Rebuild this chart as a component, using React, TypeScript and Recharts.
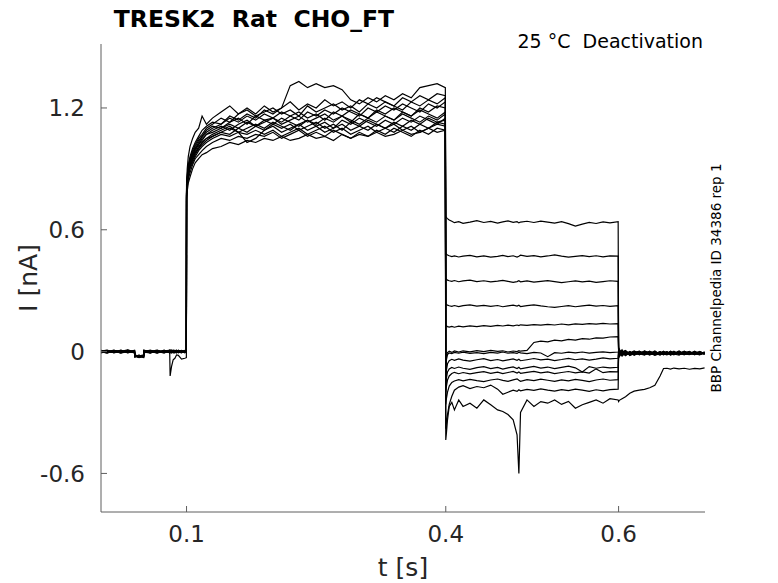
import React from 'react'
import { LineChart, Line, XAxis, YAxis } from 'recharts'

// time grid (s), split by protocol phase
const PRE_T = [0.001, 0.008, 0.016, 0.024, 0.032, 0.0398, 0.0402, 0.045, 0.0503, 0.0507, 0.058, 0.066, 0.074, 0.0805, 0.081, 0.0826, 0.0845, 0.0865, 0.0885, 0.0905, 0.0942, 0.098, 0.0998]
const ACT_T = [0.1, 0.1008, 0.102, 0.104, 0.107, 0.11, 0.114, 0.118, 0.123, 0.13, 0.14, 0.15, 0.16, 0.17, 0.18, 0.19, 0.2, 0.21, 0.22, 0.23, 0.24, 0.25, 0.26, 0.27, 0.28, 0.29, 0.3, 0.31, 0.32, 0.33, 0.34, 0.35, 0.36, 0.37, 0.38, 0.39, 0.3995]
const TAIL_T = [0.4, 0.4008, 0.402, 0.404, 0.407, 0.41, 0.415, 0.42, 0.428, 0.436, 0.444, 0.452, 0.46, 0.466, 0.472, 0.478, 0.4825, 0.4846, 0.4865, 0.494, 0.502, 0.51, 0.518, 0.526, 0.534, 0.542, 0.55, 0.558, 0.566, 0.574, 0.582, 0.59, 0.5995]
const POST_T = [0.6, 0.6008, 0.604, 0.608, 0.613, 0.618, 0.624, 0.63, 0.636, 0.642, 0.648, 0.652, 0.656, 0.66, 0.664, 0.67, 0.676, 0.682, 0.688, 0.694, 0.6995]

// current (nA), one row per sweep
const PRE_I = [
  [0.004, -0.003, 0.006, -0.002, 0.003, -0.004, -0.021, -0.026, -0.019, 0.002, 0.005, -0.003, 0.004, -0.002, 0.001, 0.005, -0.004, 0.003, -0.001, 0.006, -0.003, 0.002, 0.004],
  [-0.005, 0.004, -0.002, 0.007, -0.004, 0.002, -0.024, -0.019, -0.027, -0.003, -0.006, 0.004, -0.002, 0.005, -0.004, 0.0, 0.006, -0.003, 0.004, -0.005, 0.002, -0.004, 0.001],
  [0.002, 0.007, -0.004, 0.001, 0.008, -0.002, -0.018, -0.028, -0.022, 0.006, 0.001, 0.007, -0.005, 0.003, 0.006, -0.003, 0.002, 0.007, -0.004, 0.001, 0.006, -0.002, -0.003],
  [-0.002, -0.006, 0.003, -0.007, 0.001, 0.005, -0.027, -0.022, -0.016, -0.005, 0.004, -0.006, 0.007, -0.004, 0.002, 0.006, -0.005, 0.0, 0.005, -0.002, -0.006, 0.005, 0.002],
  [0.006, 0.001, -0.005, 0.004, -0.006, 0.003, -0.02, -0.03, -0.024, 0.003, -0.002, 0.002, -0.007, 0.006, -0.001, -0.006, 0.004, -0.005, 0.002, 0.004, 0.001, -0.006, 0.005],
  [-0.003, 0.005, 0.002, -0.004, 0.006, -0.006, -0.023, -0.017, -0.029, -0.001, 0.007, -0.004, 0.002, -0.006, 0.004, 0.002, -0.002, 0.005, -0.006, 0.0, 0.004, 0.003, -0.004],
  [0.001, -0.007, 0.005, 0.003, -0.002, 0.007, -0.016, -0.025, -0.02, 0.005, -0.004, 0.006, -0.003, 0.001, -0.005, 0.004, 0.007, -0.002, 0.003, -0.004, -0.001, 0.006, 0.0],
  [-0.006, 0.002, -0.001, 0.005, -0.005, 0.001, -0.025, -0.021, -0.026, -0.006, 0.003, -0.002, 0.005, -0.003, 0.006, -0.004, 0.001, 0.004, -0.003, 0.005, -0.005, 0.001, 0.003],
  [0.003, -0.001, 0.007, -0.005, 0.004, -0.003, -0.019, -0.027, -0.018, 0.001, -0.005, 0.003, -0.001, 0.004, -0.003, 0.006, -0.006, 0.002, 0.006, -0.003, 0.003, -0.005, -0.002],
  [-0.004, 0.006, -0.006, 0.002, -0.003, 0.004, -0.026, -0.018, -0.023, -0.004, 0.002, -0.007, 0.003, 0.007, -0.002, -0.001, 0.003, -0.006, 0.001, 0.007, -0.004, 0.004, -0.005],
  [0.005, -0.004, 0.001, -0.006, 0.007, -0.005, -0.022, -0.029, -0.021, 0.004, -0.007, 0.005, -0.004, 0.002, 0.005, -0.005, 0.005, 0.001, -0.005, 0.002, 0.005, -0.003, 0.006],
  [-0.001, 0.003, -0.003, 0.006, -0.001, 0.002, -0.021, -0.024, -0.025, -0.002, 0.005, 0.001, -0.004, 0.003, -0.12, -0.074, -0.041, -0.033, -0.016, -0.018, -0.037, -0.033, -0.03],
  [0.002, -0.005, 0.004, -0.003, 0.002, -0.007, -0.017, -0.023, -0.028, 0.007, -0.003, -0.005, 0.006, -0.005, 0.003, 0.001, -0.003, -0.004, 0.007, -0.006, 0.0, 0.003, -0.001],
]

const ACT_I = [
  [0.8, 0.87, 0.92, 0.96, 1.0, 1.03, 1.06, 1.09, 1.11, 1.13, 1.12, 1.16, 1.14, 1.17, 1.15, 1.19, 1.17, 1.2, 1.31, 1.33, 1.3, 1.32, 1.3, 1.31, 1.29, 1.24, 1.22, 1.25, 1.23, 1.26, 1.24, 1.27, 1.25, 1.3, 1.31, 1.32, 1.3],
  [0.82, 0.9, 0.96, 1.01, 1.05, 1.08, 1.1, 1.16, 1.12, 1.15, 1.18, 1.21, 1.17, 1.2, 1.17, 1.21, 1.18, 1.2, 1.23, 1.19, 1.22, 1.2, 1.24, 1.21, 1.23, 1.2, 1.24, 1.22, 1.25, 1.23, 1.21, 1.25, 1.23, 1.26, 1.24, 1.27, 1.26],
  [0.79, 0.86, 0.91, 0.95, 0.99, 1.02, 1.05, 1.07, 1.1, 1.12, 1.15, 1.13, 1.17, 1.19, 1.16, 1.18, 1.2, 1.17, 1.19, 1.16, 1.21, 1.18, 1.2, 1.22, 1.19, 1.21, 1.18, 1.22, 1.2, 1.23, 1.21, 1.19, 1.23, 1.21, 1.24, 1.22, 1.25],
  [0.78, 0.85, 0.9, 0.94, 0.98, 1.01, 1.04, 1.06, 1.08, 1.1, 1.12, 1.15, 1.13, 1.16, 1.14, 1.17, 1.15, 1.18, 1.16, 1.14, 1.18, 1.16, 1.19, 1.17, 1.2, 1.18, 1.16, 1.2, 1.18, 1.21, 1.19, 1.22, 1.2, 1.18, 1.22, 1.2, 1.23],
  [0.77, 0.84, 0.89, 0.93, 0.97, 1.0, 1.03, 1.06, 1.09, 1.11, 1.1, 1.13, 1.15, 1.12, 1.16, 1.14, 1.15, 1.13, 1.16, 1.18, 1.15, 1.17, 1.14, 1.18, 1.16, 1.19, 1.17, 1.15, 1.19, 1.17, 1.2, 1.18, 1.16, 1.2, 1.18, 1.21, 1.2],
  [0.79, 0.85, 0.9, 0.94, 0.97, 1.0, 1.02, 1.04, 1.07, 1.09, 1.11, 1.09, 1.12, 1.14, 1.11, 1.13, 1.15, 1.12, 1.14, 1.16, 1.13, 1.15, 1.17, 1.14, 1.16, 1.13, 1.17, 1.15, 1.18, 1.16, 1.14, 1.18, 1.16, 1.19, 1.17, 1.15, 1.18],
  [0.78, 0.84, 0.88, 0.92, 0.96, 0.99, 1.02, 1.05, 1.07, 1.08, 1.1, 1.12, 1.1, 1.13, 1.11, 1.14, 1.12, 1.15, 1.13, 1.11, 1.14, 1.12, 1.15, 1.13, 1.16, 1.14, 1.12, 1.15, 1.13, 1.16, 1.14, 1.17, 1.15, 1.13, 1.16, 1.14, 1.17],
  [0.77, 0.83, 0.88, 0.92, 0.95, 0.98, 1.01, 1.03, 1.05, 1.07, 1.09, 1.11, 1.08, 1.1, 1.12, 1.1, 1.13, 1.11, 1.09, 1.12, 1.14, 1.11, 1.13, 1.1, 1.14, 1.12, 1.15, 1.13, 1.11, 1.14, 1.12, 1.15, 1.13, 1.16, 1.14, 1.12, 1.15],
  [0.78, 0.83, 0.87, 0.91, 0.95, 0.98, 1.0, 1.03, 1.05, 1.06, 1.08, 1.07, 1.1, 1.08, 1.11, 1.09, 1.12, 1.1, 1.12, 1.09, 1.11, 1.13, 1.1, 1.12, 1.09, 1.13, 1.11, 1.14, 1.12, 1.1, 1.13, 1.11, 1.14, 1.12, 1.15, 1.13, 1.14],
  [0.76, 0.82, 0.87, 0.91, 0.94, 0.97, 1.0, 1.02, 1.04, 1.06, 1.08, 1.1, 1.08, 1.03, 1.05, 1.09, 1.11, 1.08, 1.1, 1.12, 1.09, 1.11, 1.08, 1.1, 1.12, 1.09, 1.11, 1.09, 1.12, 1.1, 1.08, 1.11, 1.09, 1.12, 1.1, 1.13, 1.12],
  [0.77, 0.82, 0.86, 0.9, 0.93, 0.96, 0.99, 1.01, 1.03, 1.05, 1.07, 1.06, 1.08, 1.07, 1.09, 1.07, 1.09, 1.06, 1.08, 1.1, 1.07, 1.09, 1.11, 1.08, 1.1, 1.07, 1.09, 1.11, 1.08, 1.1, 1.12, 1.09, 1.11, 1.08, 1.1, 1.12, 1.11],
  [0.76, 0.81, 0.85, 0.88, 0.92, 0.95, 0.97, 0.99, 1.01, 1.03, 1.05, 1.04, 1.06, 1.05, 1.07, 1.06, 1.08, 1.05, 1.07, 1.09, 1.06, 1.08, 1.06, 1.09, 1.07, 1.05, 1.08, 1.06, 1.09, 1.07, 1.1, 1.08, 1.06, 1.09, 1.07, 1.1, 1.09],
  [0.75, 0.79, 0.83, 0.86, 0.9, 0.93, 0.95, 0.97, 0.98, 1.0, 1.01, 1.03, 1.02, 1.04, 1.03, 1.05, 1.04, 1.06, 1.04, 1.05, 1.07, 1.05, 1.06, 1.04, 1.07, 1.05, 1.07, 1.06, 1.08, 1.06, 1.07, 1.09, 1.07, 1.08, 1.1, 1.08, 1.09],
]

const TAIL_I = [
  [0.665, 0.66, 0.655, 0.648, 0.642, 0.635, 0.64, 0.632, 0.638, 0.645, 0.636, 0.641, 0.633, 0.639, 0.644, 0.637, 0.64, 0.634, 0.638, 0.642, 0.636, 0.643, 0.638, 0.633, 0.64, 0.63, 0.618, 0.628, 0.636, 0.631, 0.639, 0.634, 0.64],
  [0.485, 0.48, 0.476, 0.472, 0.468, 0.471, 0.466, 0.47, 0.474, 0.467, 0.471, 0.465, 0.469, 0.474, 0.468, 0.472, 0.466, 0.47, 0.475, 0.469, 0.473, 0.467, 0.471, 0.476, 0.47, 0.465, 0.469, 0.473, 0.468, 0.472, 0.467, 0.471, 0.47],
  [0.36, 0.356, 0.352, 0.349, 0.346, 0.35, 0.344, 0.348, 0.352, 0.345, 0.349, 0.343, 0.347, 0.351, 0.346, 0.341, 0.345, 0.349, 0.344, 0.348, 0.342, 0.346, 0.35, 0.345, 0.34, 0.344, 0.348, 0.343, 0.347, 0.341, 0.345, 0.349, 0.346],
  [0.235, 0.232, 0.229, 0.226, 0.223, 0.227, 0.222, 0.226, 0.23, 0.224, 0.228, 0.223, 0.227, 0.221, 0.225, 0.229, 0.224, 0.228, 0.222, 0.226, 0.23, 0.225, 0.221, 0.218, 0.222, 0.226, 0.221, 0.225, 0.229, 0.224, 0.227, 0.223, 0.226],
  [0.13, 0.126, 0.123, 0.121, 0.124, 0.12, 0.125, 0.122, 0.127, 0.123, 0.128, 0.124, 0.129, 0.126, 0.13, 0.127, 0.131, 0.128, 0.132, 0.129, 0.133, 0.13, 0.134, 0.131, 0.136, 0.132, 0.137, 0.134, 0.138, 0.135, 0.139, 0.136, 0.138],
  [-0.05, -0.02, -0.005, 0.002, -0.004, 0.003, -0.002, 0.004, -0.001, 0.005, 0.0, 0.006, 0.001, 0.004, -0.002, 0.003, 0.0, 0.005, 0.002, 0.006, 0.045, 0.052, 0.048, 0.056, 0.053, 0.06, 0.057, 0.064, 0.061, 0.068, 0.066, 0.072, 0.074],
  [-0.08, -0.04, -0.015, -0.006, -0.01, -0.004, -0.008, -0.003, -0.009, -0.005, -0.01, -0.004, -0.007, -0.002, -0.008, -0.005, -0.009, -0.003, -0.006, -0.01, -0.004, -0.007, -0.025, -0.005, -0.008, -0.003, -0.006, -0.002, -0.007, -0.004, -0.001, -0.005, -0.002],
  [-0.12, -0.09, -0.06, -0.045, -0.038, -0.043, -0.036, -0.042, -0.047, -0.04, -0.035, -0.044, -0.039, -0.046, -0.041, -0.036, -0.043, -0.038, -0.045, -0.04, -0.034, -0.041, -0.037, -0.044, -0.039, -0.033, -0.04, -0.036, -0.042, -0.037, -0.031, -0.036, -0.033],
  [-0.16, -0.13, -0.1, -0.085, -0.078, -0.083, -0.076, -0.082, -0.087, -0.079, -0.074, -0.084, -0.078, -0.086, -0.08, -0.075, -0.083, -0.077, -0.085, -0.079, -0.073, -0.081, -0.076, -0.084, -0.078, -0.072, -0.08, -0.1, -0.074, -0.082, -0.076, -0.08, -0.077],
  [-0.2, -0.17, -0.14, -0.12, -0.108, -0.102, -0.109, -0.103, -0.11, -0.104, -0.099, -0.107, -0.101, -0.108, -0.103, -0.098, -0.106, -0.1, -0.107, -0.102, -0.097, -0.105, -0.1, -0.108, -0.103, -0.098, -0.105, -0.1, -0.106, -0.085, -0.104, -0.099, -0.1],
  [-0.26, -0.23, -0.2, -0.17, -0.152, -0.145, -0.138, -0.144, -0.137, -0.143, -0.148, -0.14, -0.135, -0.142, -0.147, -0.139, -0.134, -0.141, -0.146, -0.138, -0.143, -0.136, -0.141, -0.147, -0.139, -0.144, -0.137, -0.142, -0.148, -0.14, -0.135, -0.141, -0.138],
  [-0.38, -0.35, -0.31, -0.26, -0.22, -0.19, -0.175, -0.168, -0.182, -0.172, -0.178, -0.165, -0.185, -0.21, -0.2, -0.19, -0.196, -0.188, -0.193, -0.186, -0.191, -0.184, -0.19, -0.195, -0.187, -0.192, -0.185, -0.19, -0.196, -0.188, -0.193, -0.187, -0.185],
  [-0.435, -0.4, -0.336, -0.27, -0.25, -0.287, -0.238, -0.27, -0.254, -0.279, -0.238, -0.262, -0.287, -0.295, -0.31, -0.336, -0.41, -0.6, -0.3, -0.238, -0.27, -0.246, -0.254, -0.238, -0.26, -0.245, -0.279, -0.262, -0.25, -0.238, -0.254, -0.232, -0.238],
]

const POST_I = [
  [0.012, 0.006, -0.004, 0.003, -0.012, -0.002, -0.015, -0.004, -0.011, 0.001, -0.013, -0.006, 0.0, -0.014, -0.003, -0.01, 0.002, -0.012, -0.005, -0.001, -0.009],
  [0.008, -0.015, 0.004, -0.013, -0.001, -0.016, -0.005, -0.012, 0.002, -0.014, -0.004, -0.011, -0.016, -0.002, -0.013, 0.001, -0.014, -0.006, -0.012, -0.003, -0.01],
  [0.015, -0.003, -0.018, 0.002, -0.01, 0.001, -0.013, 0.003, -0.007, -0.015, 0.0, -0.012, -0.004, -0.009, 0.002, -0.015, -0.005, 0.001, -0.013, -0.007, -0.004],
  [0.005, -0.02, 0.006, -0.008, -0.016, -0.005, 0.002, -0.014, -0.003, -0.006, -0.016, 0.001, -0.01, -0.005, -0.016, -0.004, -0.011, -0.015, 0.0, -0.012, -0.006],
  [0.01, 0.002, -0.012, -0.018, 0.001, -0.012, -0.008, -0.001, -0.015, -0.009, -0.002, -0.016, -0.007, 0.001, -0.011, -0.006, -0.016, -0.002, -0.008, -0.015, -0.003],
  [0.018, -0.008, -0.022, -0.004, -0.007, 0.003, -0.01, -0.017, 0.0, -0.011, -0.007, 0.002, -0.014, -0.01, -0.001, -0.013, -0.008, -0.003, -0.016, 0.001, -0.011],
  [-0.002, 0.01, -0.009, -0.015, -0.013, -0.009, 0.001, -0.006, -0.017, -0.002, -0.012, -0.015, -0.003, -0.011, -0.008, 0.003, -0.012, -0.009, -0.002, -0.014, -0.007],
  [0.006, -0.012, 0.008, -0.02, -0.004, -0.014, -0.011, 0.002, -0.009, -0.016, -0.005, -0.003, -0.013, 0.002, -0.006, -0.012, 0.001, -0.014, -0.01, -0.004, -0.012],
  [0.02, -0.026, -0.003, 0.004, -0.017, -0.006, -0.002, -0.015, -0.01, 0.003, -0.014, -0.008, -0.001, -0.017, -0.012, -0.007, -0.003, -0.011, 0.002, -0.013, -0.008],
  [-0.01, -0.018, 0.003, -0.011, 0.0, -0.018, -0.006, -0.009, 0.001, -0.012, -0.001, -0.013, -0.009, -0.004, -0.015, -0.001, -0.009, -0.013, -0.006, -0.002, -0.014],
  [0.003, 0.012, -0.015, -0.002, -0.01, 0.0, -0.016, -0.003, -0.013, -0.008, -0.017, -0.002, -0.005, -0.016, 0.0, -0.011, -0.014, -0.004, -0.01, -0.016, -0.001],
  [-0.006, -0.02, -0.006, 0.005, -0.019, -0.01, -0.004, -0.013, -0.005, -0.018, -0.009, -0.006, -0.015, -0.008, -0.012, -0.017, -0.002, -0.009, -0.014, -0.006, -0.013],
  [-0.246, -0.24, -0.232, -0.222, -0.205, -0.195, -0.19, -0.186, -0.178, -0.166, -0.12, -0.083, -0.082, -0.086, -0.081, -0.085, -0.082, -0.087, -0.083, -0.085, -0.08],
]

const X_TICKS = [0.1, 0.4, 0.6]
const Y_TICKS = [-0.6, 0, 0.6, 1.2]

const ALL_T = [...PRE_T, ...ACT_T, ...TAIL_T, ...POST_T]
const SWEEPS = PRE_I.map((pre, k) => [...pre, ...ACT_I[k], ...TAIL_I[k], ...POST_I[k]])
const rows = ALL_T.map((t, j) => {
  const r: any = { t }
  SWEEPS.forEach((s, k) => { r['s' + k] = s[j] })
  return r
})

const FONT = 'DejaVu Sans, sans-serif'
const AXIS = '#5e5e5e'
const TXT = '#262626'

const YTick = ({ x, y, payload }: any) => (
  <g>
    <line x1={x + 16} x2={x + 22} y1={y} y2={y} stroke={AXIS} />
    <text x={x} y={y} dy="0.36em" textAnchor="end" fontFamily={FONT} fontSize={23} fill={TXT}>
      {payload.value}
    </text>
  </g>
)

const XTick = ({ x, y, payload }: any) => (
  <g>
    <line x1={x} x2={x} y1={y} y2={y - 6} stroke={AXIS} />
    <text x={x} y={y + 30} textAnchor="middle" fontFamily={FONT} fontSize={23} fill={TXT}>
      {payload.value}
    </text>
  </g>
)

export default function App() {
  return (
    <div style={{ position: 'absolute', left: 0, top: 0, width: 778, height: 583, background: '#fff' }}>
      <LineChart width={778} height={583} data={rows} margin={{ top: 44, right: 73, left: 0, bottom: 0 }}>
        <XAxis
          dataKey="t"
          type="number"
          domain={[0.001, 0.7]}
          ticks={X_TICKS}
          allowDataOverflow
          height={71}
          tickSize={0}
          tickMargin={0}
          tickLine={false}
          axisLine={{ stroke: AXIS }}
          tick={(p: any) => <XTick {...p} />}
          interval={0}
        />
        <YAxis
          type="number"
          domain={[-0.79, 1.515]}
          ticks={Y_TICKS}
          allowDataOverflow
          width={101}
          tickSize={0}
          tickMargin={16}
          tickLine={false}
          axisLine={{ stroke: AXIS }}
          tick={(p: any) => <YTick {...p} />}
          interval={0}
        />
        {SWEEPS.map((_, k) => (
          <Line
            key={k}
            dataKey={'s' + k}
            type="linear"
            stroke="#000"
            strokeWidth={1.2}
            dot={false}
            activeDot={false}
            isAnimationActive={false}
          />
        ))}
      </LineChart>
      <svg width={778} height={583} style={{ position: 'absolute', left: 0, top: 0, pointerEvents: 'none' }}>
        <text x={254} y={27} textAnchor="middle" fontFamily={FONT} fontWeight="bold" fontSize={23.5} fill="#000" style={{ whiteSpace: 'pre' }}>
          {'TRESK2  Rat  CHO_FT'}
        </text>
        <text x={703} y={48} textAnchor="end" fontFamily={FONT} fontSize={19} fill="#000" style={{ whiteSpace: 'pre' }}>
          {'25 °C  Deactivation'}
        </text>
        <text x={403} y={576} textAnchor="middle" fontFamily={FONT} fontSize={25} fill={TXT}>
          t [s]
        </text>
        <text transform="translate(37,278) rotate(-90)" textAnchor="middle" fontFamily={FONT} fontSize={25} fill={TXT}>
          I [nA]
        </text>
        <text transform="translate(721,278) rotate(-90)" textAnchor="middle" fontFamily={FONT} fontSize={13.5} fill="#000">
          BBP Channelpedia ID 34386 rep 1
        </text>
      </svg>
    </div>
  )
}
